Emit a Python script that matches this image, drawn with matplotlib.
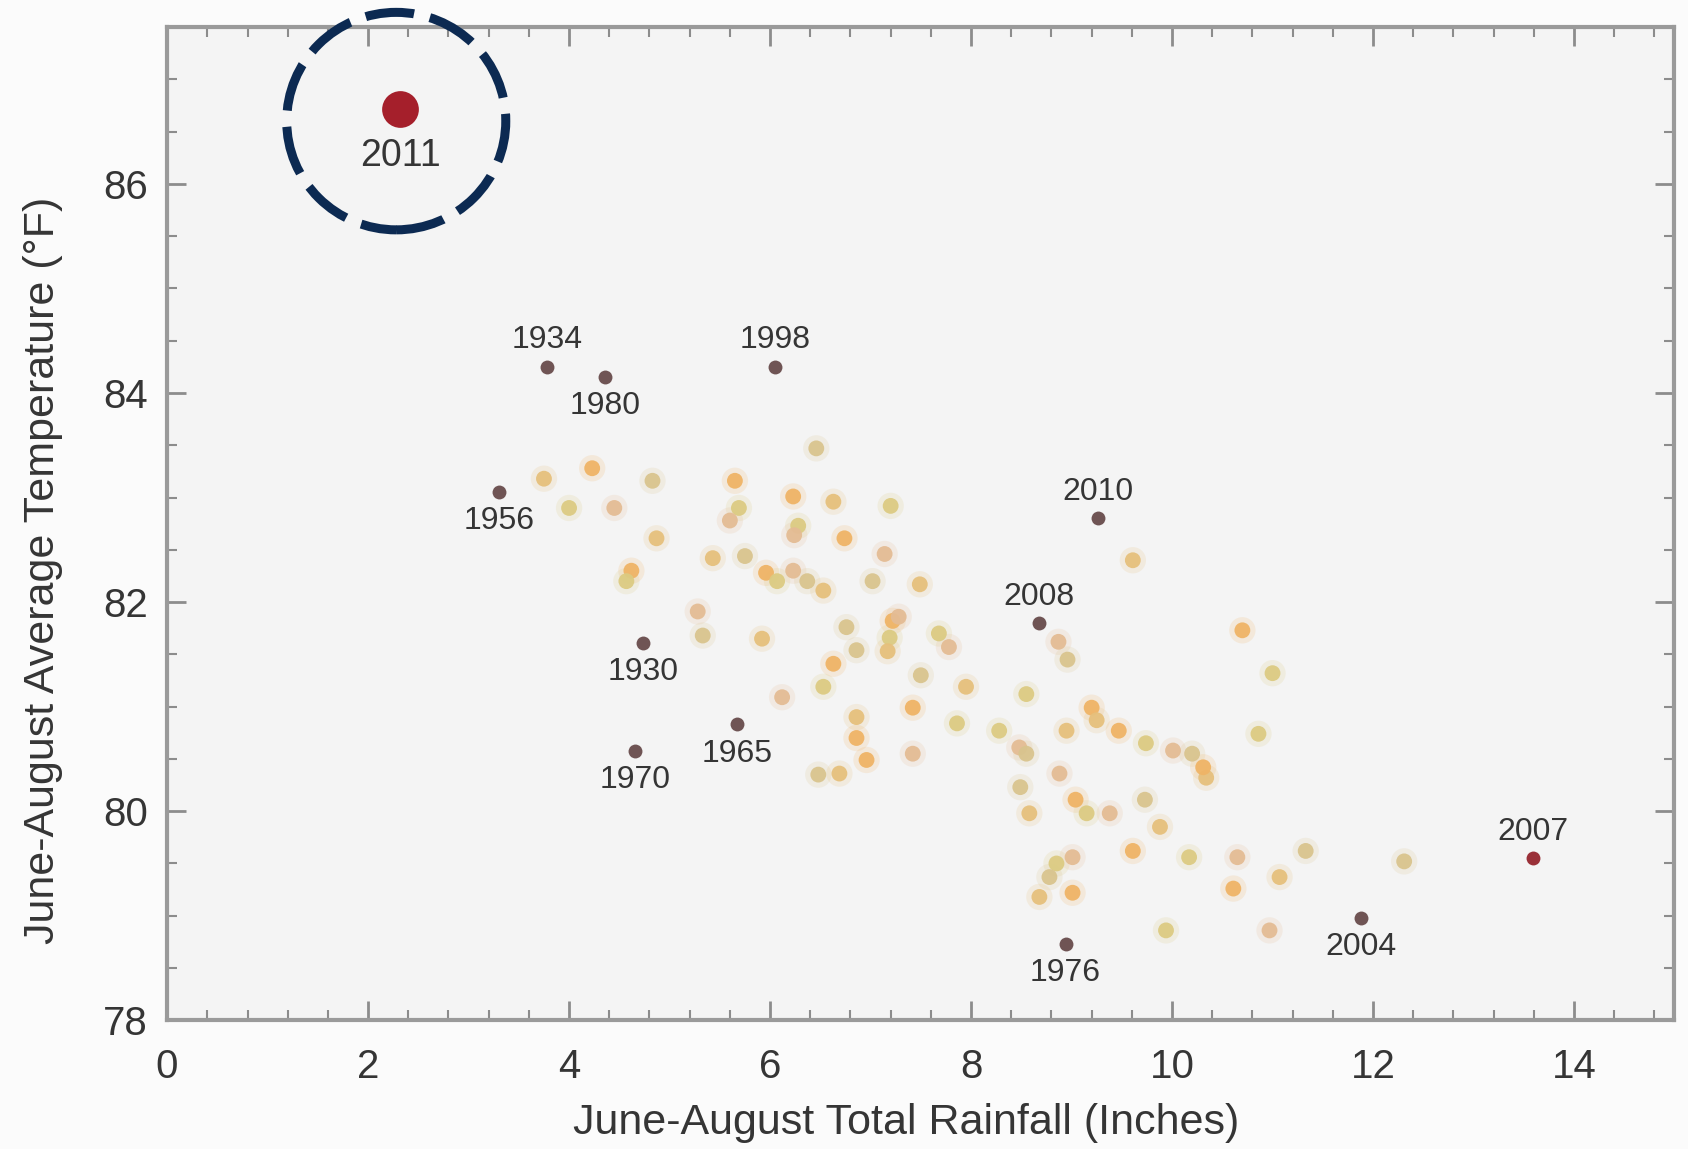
import matplotlib
matplotlib.use("Agg")
import matplotlib.pyplot as plt
from matplotlib.patches import Ellipse
from matplotlib.ticker import MultipleLocator

# summers without a label: (rainfall inches, temperature F)
rain = [3.75, 4.23, 4.00, 4.45, 4.83, 4.87, 4.62, 4.57, 5.28, 5.33,
        5.43, 5.65, 5.69, 5.60, 5.75, 5.92, 5.96, 6.07, 6.23, 6.37,
        6.53, 6.23, 6.28, 6.24, 6.46, 6.63, 6.74, 7.20, 7.14, 7.02,
        7.49, 7.22, 7.19, 7.28, 6.76, 7.17, 6.63, 6.53, 6.12, 6.86,
        6.86, 6.86, 7.68, 7.78, 7.50, 7.95, 7.42, 7.86, 7.42, 6.48,
        6.69, 6.96, 8.55, 8.87, 8.96, 8.95, 9.20, 8.28, 8.48, 8.55,
        9.25, 9.47, 9.74, 10.01, 10.20, 10.34, 10.31, 10.86, 8.88, 8.49,
        8.58, 9.04, 9.15, 9.38, 9.73, 9.88, 9.61, 10.17, 10.65, 11.33,
        11.07, 10.61, 8.85, 9.01, 8.78, 8.68, 9.01, 9.94, 10.97, 12.31,
        9.61, 10.70, 11.00]
temp = [83.18, 83.28, 82.90, 82.90, 83.16, 82.61, 82.30, 82.20, 81.91, 81.68,
        82.42, 83.16, 82.90, 82.78, 82.44, 81.65, 82.28, 82.20, 82.30, 82.20,
        82.11, 83.01, 82.73, 82.64, 83.47, 82.96, 82.61, 82.92, 82.46, 82.20,
        82.17, 81.82, 81.66, 81.86, 81.76, 81.53, 81.41, 81.19, 81.09, 81.54,
        80.90, 80.70, 81.70, 81.57, 81.30, 81.19, 80.99, 80.84, 80.55, 80.35,
        80.36, 80.49, 81.12, 81.62, 81.45, 80.77, 80.99, 80.77, 80.61, 80.55,
        80.87, 80.77, 80.65, 80.58, 80.55, 80.32, 80.42, 80.74, 80.36, 80.23,
        79.98, 80.11, 79.98, 79.98, 80.11, 79.85, 79.62, 79.56, 79.56, 79.62,
        79.37, 79.26, 79.50, 79.56, 79.37, 79.18, 79.22, 78.86, 78.86, 79.52,
        82.40, 81.73, 81.32]

# labelled summers
years = ["1934", "1980", "1998", "1956", "1930", "1970", "1965",
         "2010", "2008", "1976", "2004", "2007"]
year_rain = [3.78, 4.36, 6.05, 3.30, 4.74, 4.66, 5.67, 9.26, 8.68, 8.94, 11.88, 13.59]
year_temp = [84.25, 84.15, 84.25, 83.05, 81.61, 80.58, 80.83, 82.80, 81.80, 78.73, 78.98, 79.55]
label_side = ["above", "below", "above", "below", "below", "below", "below",
              "above", "above", "below", "below", "above"]

rain_2011 = 2.32
temp_2011 = 86.72

dot_colors = ["#e6c07c", "#efb466", "#dccb82", "#e4bc94", "#d9c48e"]
year_colors = {"2007": "#9a3038"}

plt.rcParams['font.family'] = ['Liberation Sans', 'DejaVu Sans']

fig = plt.figure(figsize=(16.88, 11.49), dpi=100, facecolor="#fbfbfb")
ax = fig.add_axes([0.099, 0.112, 0.893, 0.8645])
ax.set_facecolor("#f4f4f4")

cols = [dot_colors[i % len(dot_colors)] for i in range(len(rain))]
# soft halo then the dot itself, the source is blurry
ax.scatter(rain, temp, s=360, c=cols, alpha=0.18, linewidths=0, zorder=2)
ax.scatter(rain, temp, s=130, c=cols, alpha=0.95, linewidths=0, zorder=3)

for yr, x, y, side in zip(years, year_rain, year_temp, label_side):
    ax.scatter([x], [y], s=100, color=year_colors.get(yr, "#6f5454"),
               linewidths=0, zorder=4)
    dy = 19 if side == "above" else -21
    ax.annotate(yr, (x, y), xytext=(0, dy), textcoords="offset points",
                ha="center", va="center", fontsize=23, color="#353535", zorder=5)

ax.scatter([rain_2011], [temp_2011], s=700, color="#a51f2b", linewidths=0, zorder=4)
ax.annotate("2011", (rain_2011, temp_2011), xytext=(0, -34), textcoords="offset points",
            ha="center", va="center", fontsize=27, color="#353535", zorder=5)

ring = Ellipse((2.28, 86.60), 2.18, 2.08, fill=False, edgecolor="#0c2a52",
               linewidth=6.5, linestyle=(0, (5.4, 1.8)), clip_on=False, zorder=6)
ax.add_patch(ring)

ax.set_xlim(0, 15)
ax.set_ylim(78, 87.5)
ax.xaxis.set_major_locator(MultipleLocator(2))
ax.xaxis.set_minor_locator(MultipleLocator(0.4))
ax.yaxis.set_major_locator(MultipleLocator(2))
ax.yaxis.set_minor_locator(MultipleLocator(0.5))
ax.tick_params(which="both", direction="in", top=True, right=True, colors="#8c8c8c",
               labelcolor="#353535")
ax.tick_params(which="major", length=14, width=2, labelsize=29)
ax.tick_params(axis="x", which="major", pad=20)
ax.tick_params(axis="y", which="major", pad=14)
ax.tick_params(which="minor", length=7, width=1.5)
for sp in ax.spines.values():
    sp.set_color("#9a9a9a")
    sp.set_linewidth(3)

ax.set_xlabel("June-August Total Rainfall (Inches)", fontsize=31, color="#353535")
ax.set_ylabel("June-August Average Temperature (°F)", fontsize=31, color="#353535")
ax.xaxis.set_label_coords(0.49, -0.083)
ax.yaxis.set_label_coords(-0.069, 0.453)

fig.savefig("out.png", dpi=100, facecolor=fig.get_facecolor())
